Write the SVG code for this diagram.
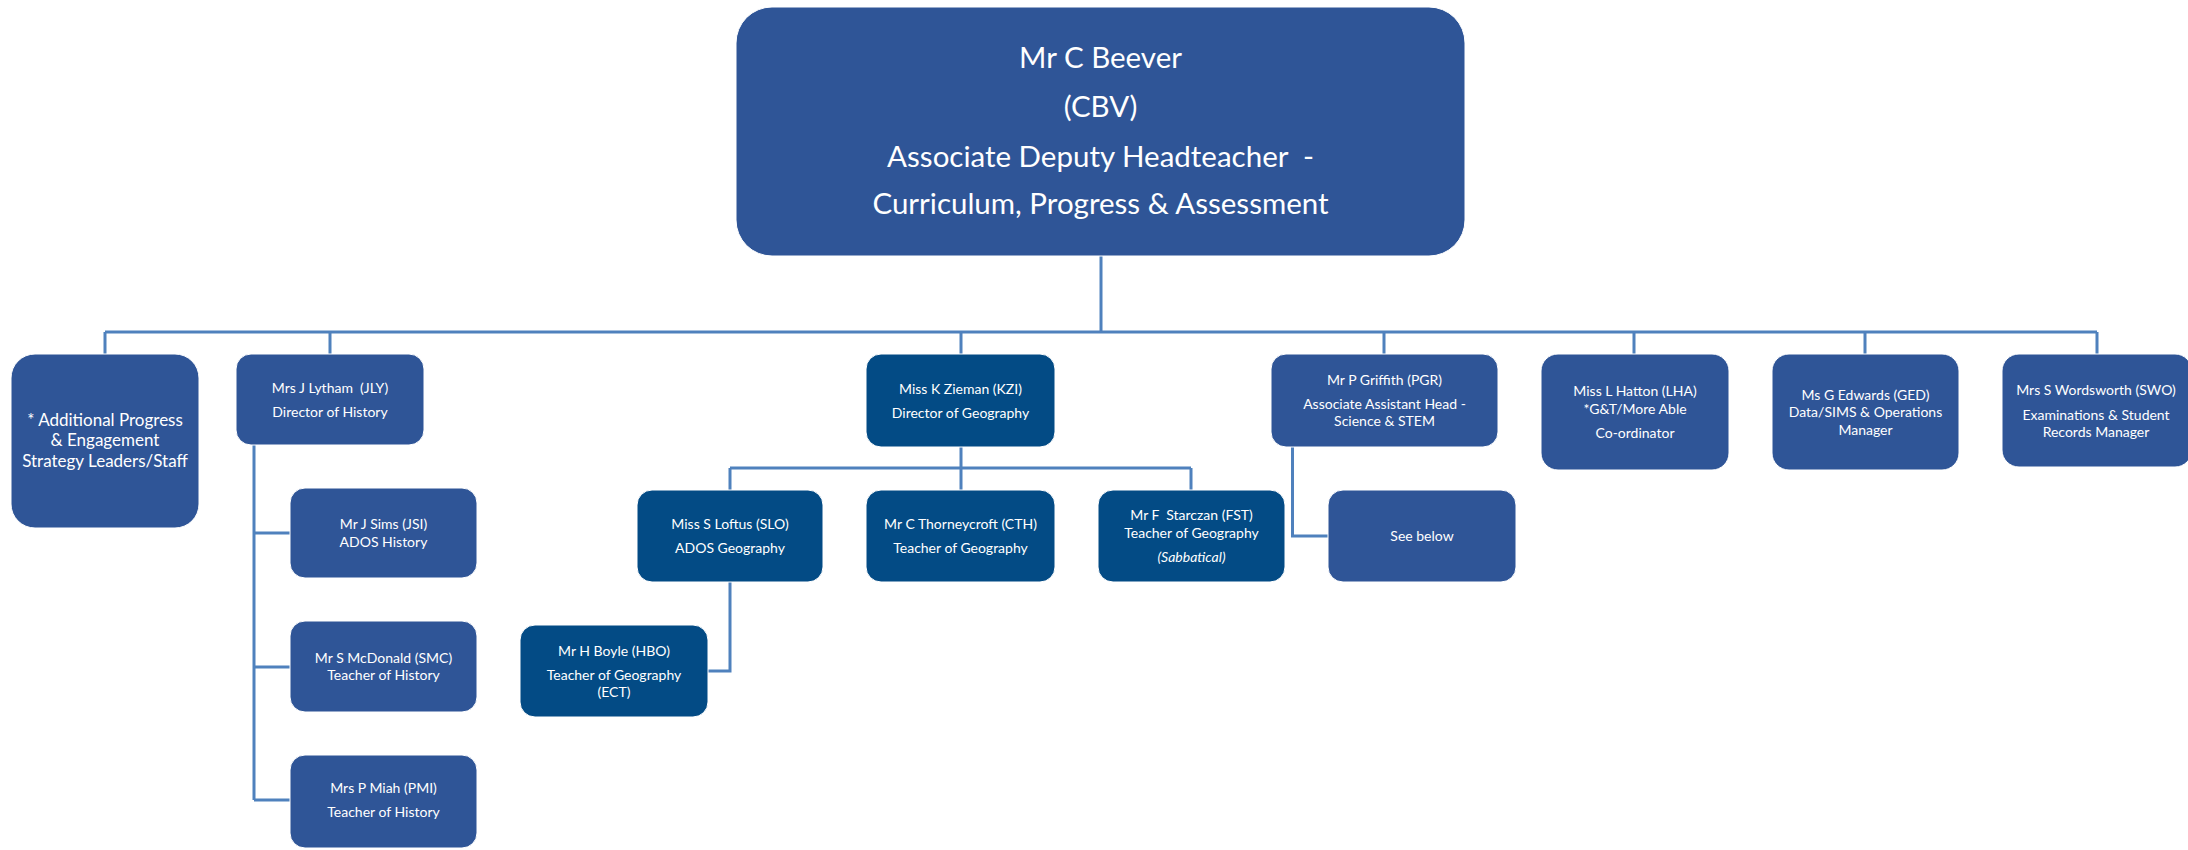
<svg xmlns="http://www.w3.org/2000/svg" width="2188" height="850" viewBox="0 0 2188 850">
<style>
.bx{fill:#2F5597;stroke:#ffffff;stroke-width:1}
.gx{fill:#034B85;stroke:#ffffff;stroke-width:1}
text{font-family:Lato,"Liberation Sans",sans-serif;fill:#ffffff;text-anchor:middle}
.s{font-size:14px}
.m{font-size:17px}
.l{font-size:29.5px}
.it{font-style:italic}
.cn{fill:none;stroke:#4F81BD;stroke-width:3}
</style>
<rect width="2188" height="850" fill="#ffffff"/>
<g id="connectors">
<path class="cn" d="M1101 256V332M105 332H2097M105 332V354M330 332V354M961 332V354M1384 332V354M1634 332V354M1865 332V354M2097 332V354"/>
<path class="cn" d="M961 447V490M730 468H1191M730 468V490M1191 468V490"/>
<path class="cn" d="M730 582V671H708"/>
<path class="cn" d="M254 445V800M254 533H290M254 667H290M254 800H290"/>
<path class="cn" d="M1292.5 447V536H1328"/>
</g>
<g id="cbv">
<rect class="bx" x="736" y="7" width="729" height="249" rx="36"/>
<text class="l" x="1100.5" y="68">Mr C Beever</text>
<text class="l" x="1100.5" y="117">(CBV)</text>
<text class="l" x="1100.5" y="167" xml:space="preserve">Associate Deputy Headteacher  -</text>
<text class="l" x="1100.5" y="214">Curriculum, Progress &amp; Assessment</text>
</g>
<g id="additional">
<rect class="bx" x="11" y="354" width="188" height="174" rx="24"/>
<text class="m" x="105" y="426">* Additional Progress</text>
<text class="m" x="105" y="446">&amp; Engagement</text>
<text class="m" x="105" y="467">Strategy Leaders/Staff</text>
</g>
<g id="jly">
<rect class="bx" x="236" y="354" width="188" height="91" rx="15"/>
<text class="s" x="330" y="393" xml:space="preserve">Mrs J Lytham  (JLY)</text>
<text class="s" x="330" y="417">Director of History</text>
</g>
<g id="jsi">
<rect class="bx" x="290" y="488" width="187" height="90" rx="15"/>
<text class="s" x="383.5" y="529">Mr J Sims (JSI)</text>
<text class="s" x="383.5" y="547">ADOS History</text>
</g>
<g id="smc">
<rect class="bx" x="290" y="621" width="187" height="91" rx="15"/>
<text class="s" x="383.5" y="663">Mr S McDonald (SMC)</text>
<text class="s" x="383.5" y="680">Teacher of History</text>
</g>
<g id="pmi">
<rect class="bx" x="290" y="755" width="187" height="93" rx="15"/>
<text class="s" x="383.5" y="793">Mrs P Miah (PMI)</text>
<text class="s" x="383.5" y="817">Teacher of History</text>
</g>
<g id="kzi">
<rect class="gx" x="866" y="354" width="189" height="93" rx="15"/>
<text class="s" x="960.5" y="394">Miss K Zieman (KZI)</text>
<text class="s" x="960.5" y="418">Director of Geography</text>
</g>
<g id="slo">
<rect class="gx" x="637" y="490" width="186" height="92" rx="15"/>
<text class="s" x="730" y="529">Miss S Loftus (SLO)</text>
<text class="s" x="730" y="553">ADOS Geography</text>
</g>
<g id="cth">
<rect class="gx" x="866" y="490" width="189" height="92" rx="15"/>
<text class="s" x="960.5" y="529">Mr C Thorneycroft (CTH)</text>
<text class="s" x="960.5" y="553">Teacher of Geography</text>
</g>
<g id="fst">
<rect class="gx" x="1098" y="490" width="187" height="92" rx="15"/>
<text class="s" x="1191.5" y="520" xml:space="preserve">Mr F  Starczan (FST)</text>
<text class="s" x="1191.5" y="538">Teacher of Geography</text>
<text class="s it" x="1191.5" y="562">(Sabbatical)</text>
</g>
<g id="hbo">
<rect class="gx" x="520" y="625" width="188" height="92" rx="15"/>
<text class="s" x="614" y="656">Mr H Boyle (HBO)</text>
<text class="s" x="614" y="680">Teacher of Geography</text>
<text class="s" x="614" y="697">(ECT)</text>
</g>
<g id="pgr">
<rect class="bx" x="1271" y="354" width="227" height="93" rx="15"/>
<text class="s" x="1384.5" y="385">Mr P Griffith (PGR)</text>
<text class="s" x="1384.5" y="409">Associate Assistant Head -</text>
<text class="s" x="1384.5" y="426">Science &amp; STEM</text>
</g>
<g id="seebelow">
<rect class="bx" x="1328" y="490" width="188" height="92" rx="15"/>
<text class="s" x="1422" y="541">See below</text>
</g>
<g id="lha">
<rect class="bx" x="1541" y="354" width="188" height="116" rx="17"/>
<text class="s" x="1635" y="396">Miss L Hatton (LHA)</text>
<text class="s" x="1635" y="414">*G&amp;T/More Able</text>
<text class="s" x="1635" y="438">Co-ordinator</text>
</g>
<g id="ged">
<rect class="bx" x="1772" y="354" width="187" height="116" rx="17"/>
<text class="s" x="1865.5" y="400">Ms G Edwards (GED)</text>
<text class="s" x="1865.5" y="417">Data/SIMS &amp; Operations</text>
<text class="s" x="1865.5" y="435">Manager</text>
</g>
<g id="swo">
<rect class="bx" x="2002" y="354" width="190" height="113" rx="17"/>
<text class="s" x="2096" y="395">Mrs S Wordsworth (SWO)</text>
<text class="s" x="2096" y="420">Examinations &amp; Student</text>
<text class="s" x="2096" y="437">Records Manager</text>
</g>
</svg>
